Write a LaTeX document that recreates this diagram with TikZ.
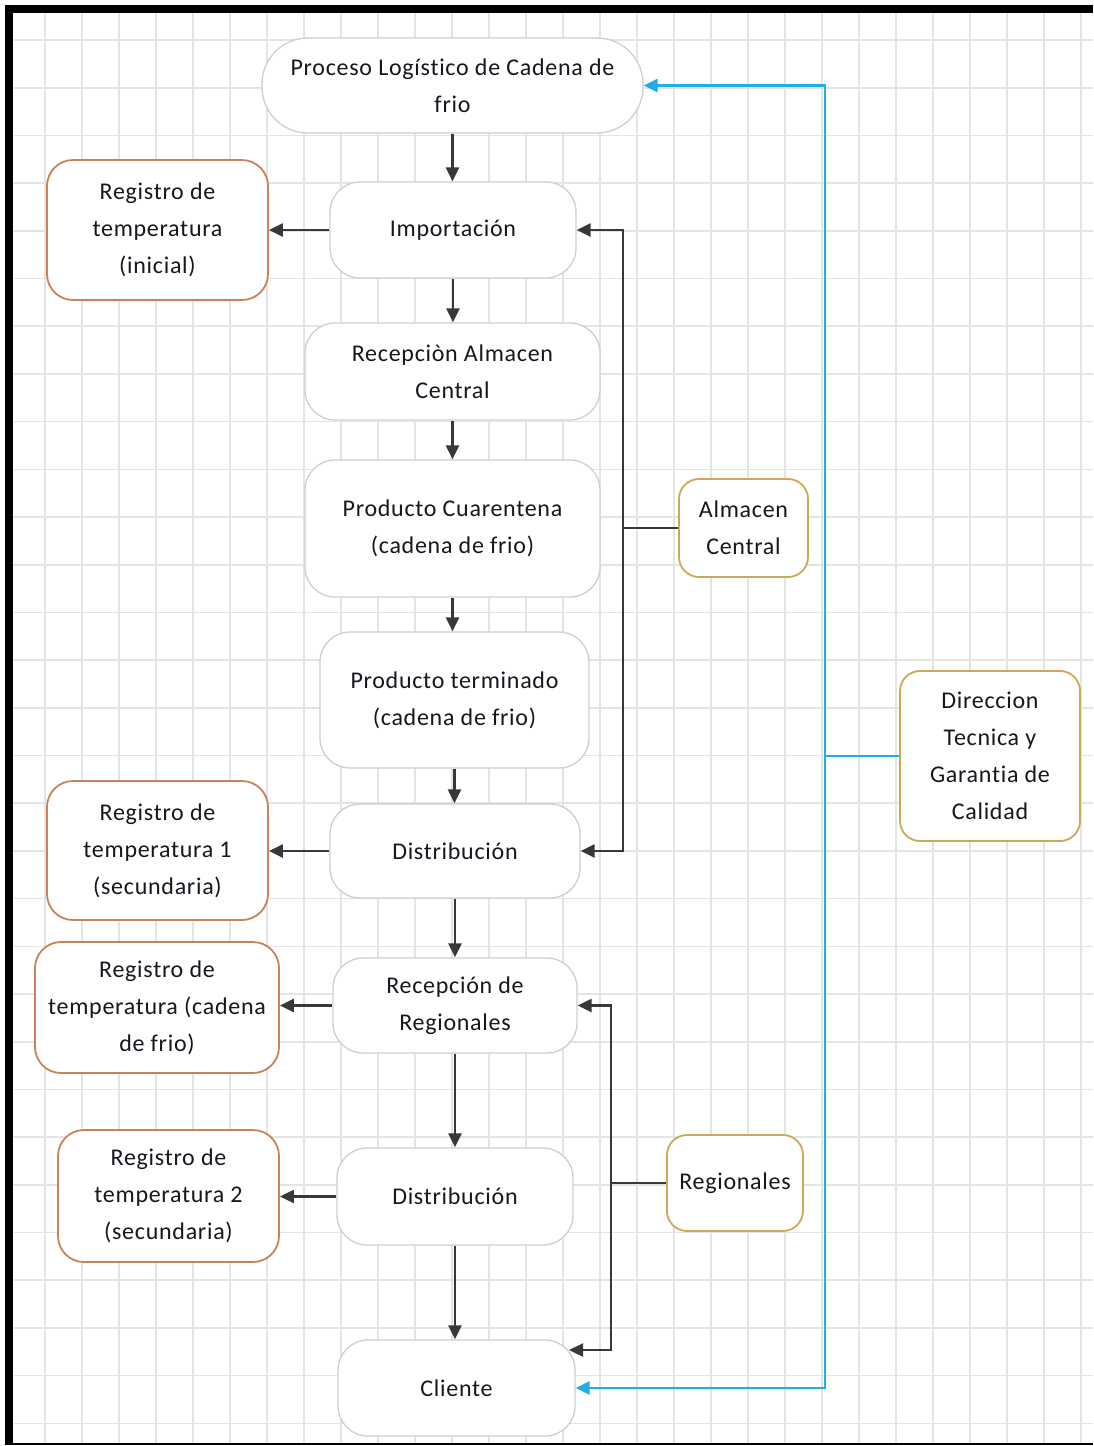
\documentclass[tikz,border=0pt]{standalone}
\usepackage{fontspec}
\setmainfont{Carlito}[LetterSpace=3,Ligatures={NoCommon,NoDiscretionary}]
\usetikzlibrary{arrows.meta,calc}
\definecolor{gridc}{HTML}{E4E4E4}
\definecolor{mainb}{HTML}{CFCFCF}
\definecolor{orangeb}{HTML}{C9825A}
\definecolor{goldb}{HTML}{CDA85A}
\definecolor{arrc}{HTML}{383838}
\definecolor{bluec}{HTML}{1EAEE8}
\definecolor{txtc}{HTML}{18161F}
\tikzset{
  base/.style={draw, fill=white, align=center, inner sep=0pt, text=txtc,
    font=\fontsize{24}{37}\selectfont},
  mainbox/.style={base, draw=mainb, line width=1.3pt, rounded corners=30pt},
  capsule/.style={base, draw=mainb, line width=1.3pt, rounded corners=46pt},
  regbox/.style={base, draw=orangeb, line width=1.8pt, rounded corners=26pt},
  ownbox/.style={base, draw=goldb, line width=1.8pt, rounded corners=20pt},
  arr/.style={draw=arrc, line width=2.3pt, -{Triangle[length=14pt,width=13pt]}},
  plain/.style={draw=arrc, line width=2.3pt},
  barr/.style={draw=bluec, line width=2.4pt, -{Triangle[length=14pt,width=13pt]}},
  bplain/.style={draw=bluec, line width=2.4pt},
}
\begin{document}
\begin{tikzpicture}[x=1pt,y=-1pt]
\useasboundingbox (0,0) rectangle (1093,1446);
\fill[white] (0,0) rectangle (1093,1446);
% grid
\foreach \k in {0,...,28} \draw[gridc, line width=1.6pt] ({45+37*\k},13) -- ({45+37*\k},1443);
\foreach \k in {0,...,29} \draw[gridc, line width=1.6pt] (13,{40+47.7*\k}) -- (1093,{40+47.7*\k});
% frame
\fill[black] (5,5) rectangle (1093,13);
\fill[black] (5,5) rectangle (13,1444);
\draw[black, line width=2pt] (5,1444) -- (1093,1444);

% main column
\node[capsule, minimum width=381pt, minimum height=95pt] (proc) at (452.5,85.5) {Proceso Logístico de Cadena de\\frio};
\node[mainbox, minimum width=246pt, minimum height=96pt] (imp) at (453,230) {Importación};
\node[mainbox, minimum width=295pt, minimum height=97pt] (rac) at (452.5,371.5) {Recepciòn Almacen\\Central};
\node[mainbox, minimum width=295pt, minimum height=137pt] (pcu) at (452.5,528.5) {Producto Cuarentena\\(cadena de frio)};
\node[mainbox, minimum width=269pt, minimum height=136pt] (pte) at (454.5,700) {Producto terminado\\(cadena de frio)};
\node[mainbox, minimum width=250pt, minimum height=94pt] (dis1) at (455,851) {Distribución};
\node[mainbox, minimum width=244pt, minimum height=95pt] (rre) at (455,1005.5) {Recepción de\\Regionales};
\node[mainbox, minimum width=236pt, minimum height=97pt] (dis2) at (455,1196.5) {Distribución};
\node[mainbox, minimum width=237pt, minimum height=96pt] (cli) at (456.5,1388) {Cliente};

% left registro boxes
\node[regbox, minimum width=221pt, minimum height=140pt] (ra) at (157.5,230) {Registro de\\temperatura\\(inicial)};
\node[regbox, minimum width=221pt, minimum height=139pt] (rb) at (157.5,850.5) {Registro de\\temperatura 1\\(secundaria)};
\node[regbox, minimum width=244pt, minimum height=131pt] (rc) at (157,1007.5) {Registro de\\temperatura (cadena\\de frio)};
\node[regbox, minimum width=221pt, minimum height=132pt] (rd) at (168.5,1196) {Registro de\\temperatura 2\\(secundaria)};

% right boxes
\node[ownbox, minimum width=129pt, minimum height=98pt] (alm) at (743.5,528) {Almacen\\Central};
\node[ownbox, minimum width=136pt, minimum height=96pt] (reg) at (735,1183) {Regionales};
\node[ownbox, minimum width=180pt, minimum height=170pt] (dir) at (990,756) {Direccion\\Tecnica y\\Garantia de\\Calidad};

% vertical flow
\draw[arr] (proc.south) -- (proc.south |- imp.north);
\draw[arr] (imp.south) -- (imp.south |- rac.north);
\draw[arr] (rac.south) -- (rac.south |- pcu.north);
\draw[arr] (pcu.south) -- (pcu.south |- pte.north);
\draw[arr] (pte.south) -- (pte.south |- dis1.north);
\draw[arr] (dis1.south) -- (dis1.south |- rre.north);
\draw[arr] (rre.south) -- (rre.south |- dis2.north);
\draw[arr] (dis2.south) -- (dis2.south |- cli.north);

% registro arrows
\draw[arr] (imp.west) -- (imp.west -| ra.east);
\draw[arr] (dis1.west) -- (dis1.west -| rb.east);
\draw[arr] (rre.west) -- (rre.west -| rc.east);
\draw[arr] (dis2.west) -- (dis2.west -| rd.east);

% almacen central bus
\coordinate (busA) at (623,528);
\draw[plain] (alm.west) -- (busA);
\draw[arr] (busA) |- (imp.east);
\draw[arr] (busA) |- (dis1.east);

% regionales bus
\coordinate (busR) at (611,1183);
\coordinate (cliR) at (569,1350);
\draw[plain] (reg.west) -- (busR);
\draw[arr] (busR) |- (rre.east);
\draw[arr] (busR) |- (cliR);

% direccion bus
\coordinate (busD) at (825,756);
\draw[bplain] (dir.west) -- (busD);
\draw[barr] (busD) |- (proc.east);
\draw[barr] (busD) |- (cli.east);
\end{tikzpicture}
\end{document}
